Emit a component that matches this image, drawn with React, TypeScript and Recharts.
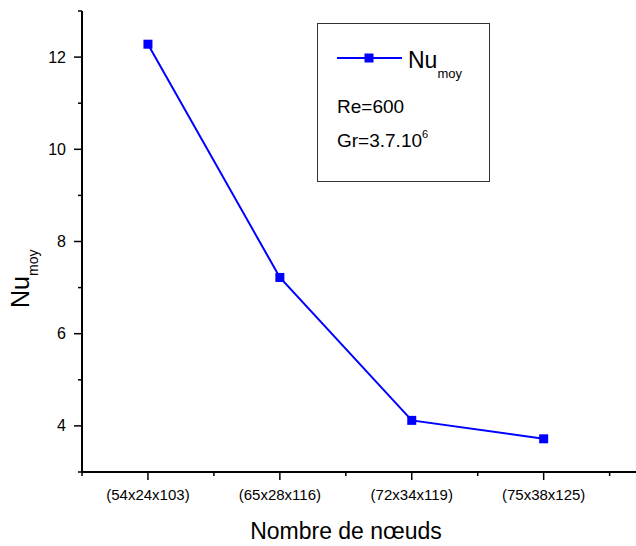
import { LineChart, Line, XAxis, YAxis, Legend } from 'recharts';

const categories = ['(54x24x103)', '(65x28x116)', '(72x34x119)', '(75x38x125)'];
const nuMoy = [12.28, 7.22, 4.12, 3.72];
const yTicks = [3, 4, 5, 6, 7, 8, 9, 10, 11, 12, 13];
const xTicks = [0.5, 1, 1.5, 2, 2.5, 3, 3.5, 4, 4.5];
const reText = 'Re=600';
const grText = 'Gr=3.7.10';
const grExp = '6';

const FONT = '"Liberation Sans", Arial, sans-serif';
const BLUE = '#0000FF';

const data = categories.map((label, i) => ({ pos: i + 1, label, nu: nuMoy[i] }));

const YTick = (props: any) => {
  const { x, y, payload } = props;
  const major = payload.value % 2 === 0;
  return (
    <g>
      <line x1={x} x2={x - (major ? 8 : 4)} y1={y} y2={y} stroke="#000" strokeWidth={1.5} />
      {major && (
        <text x={x - 16} y={y} textAnchor="end" dominantBaseline="central" fontSize={16} fontFamily={FONT} fill="#000">
          {payload.value}
        </text>
      )}
    </g>
  );
};

const XTick = (props: any) => {
  const { x, y, payload } = props;
  const major = Number.isInteger(payload.value);
  return (
    <g>
      <line x1={x} x2={x} y1={y} y2={y + (major ? 8 : 4)} stroke="#000" strokeWidth={1.5} />
      {major && (
        <text x={x} y={y + 28} textAnchor="middle" fontSize={15} fontFamily={FONT} fill="#000">
          {categories[payload.value - 1]}
        </text>
      )}
    </g>
  );
};

const Square = (props: any) => {
  const { cx, cy } = props;
  return <rect x={cx - 4.5} y={cy - 4.5} width={9} height={9} fill={BLUE} />;
};

const LegendBox = () => (
  <svg width={174} height={160} style={{ display: 'block' }}>
    <rect x={0.5} y={0.5} width={172} height={158} fill="#fff" stroke="#333" strokeWidth={1} />
    <line x1={20} x2={85} y1={35} y2={35} stroke={BLUE} strokeWidth={2} />
    <rect x={47.5} y={30.5} width={9} height={9} fill={BLUE} />
    <text x={91} y={45} fontSize={23} fontFamily={FONT} fill="#000">
      Nu<tspan dy={10} fontSize={13}>moy</tspan>
    </text>
    <text x={20} y={90} fontSize={19} fontFamily={FONT} fill="#000">
      {reText}
    </text>
    <text x={20} y={124} fontSize={19} fontFamily={FONT} fill="#000">
      {grText}
      <tspan dy={-9} fontSize={11}>{grExp}</tspan>
    </text>
  </svg>
);

const XTitle = () => (
  <text x={346} y={539} textAnchor="middle" fontSize={23} fontFamily={FONT} fill="#000">
    Nombre de nœuds
  </text>
);

export default function App() {
  return (
    <div style={{ position: 'absolute', left: 0, top: 0, width: 636, height: 546, background: '#fff' }}>
      <LineChart width={636} height={546} data={data} margin={{ top: 11, right: 0, bottom: 0, left: 0 }}>
        <XAxis
          type="number"
          dataKey="pos"
          domain={[0.5, 4.7]}
          ticks={xTicks}
          allowDataOverflow
          interval={0}
          height={74}
          tickSize={0}
          tickMargin={0}
          tickLine={false}
          tick={<XTick />}
          axisLine={{ stroke: '#000', strokeWidth: 2 }}
          label={<XTitle />}
        />
        <YAxis
          type="number"
          domain={[3, 13]}
          ticks={yTicks}
          allowDataOverflow
          interval={0}
          width={82}
          tickSize={0}
          tickMargin={0}
          tickLine={false}
          tick={<YTick />}
          axisLine={{ stroke: '#000', strokeWidth: 2 }}
        />
        <Legend
          layout="vertical"
          align="center"
          verticalAlign="middle"
          wrapperStyle={{ left: 317, top: 23, width: 174, height: 160 }}
          content={<LegendBox />}
        />
        <Line
          type="linear"
          dataKey="nu"
          stroke={BLUE}
          strokeWidth={2}
          dot={<Square />}
          activeDot={false}
          isAnimationActive={false}
        />
      </LineChart>
      {/* y axis title, rotated in css */}
      <div
        style={{
          position: 'absolute',
          left: 33,
          top: 308,
          transformOrigin: '0 0',
          transform: 'rotate(-90deg) translateY(-25px)',
          whiteSpace: 'nowrap',
          fontFamily: FONT,
          fontSize: 25,
          lineHeight: '25px',
          color: '#000',
        }}
      >
        Nu<sub style={{ fontSize: 14, verticalAlign: '-9px' }}>moy</sub>
      </div>
    </div>
  );
}
